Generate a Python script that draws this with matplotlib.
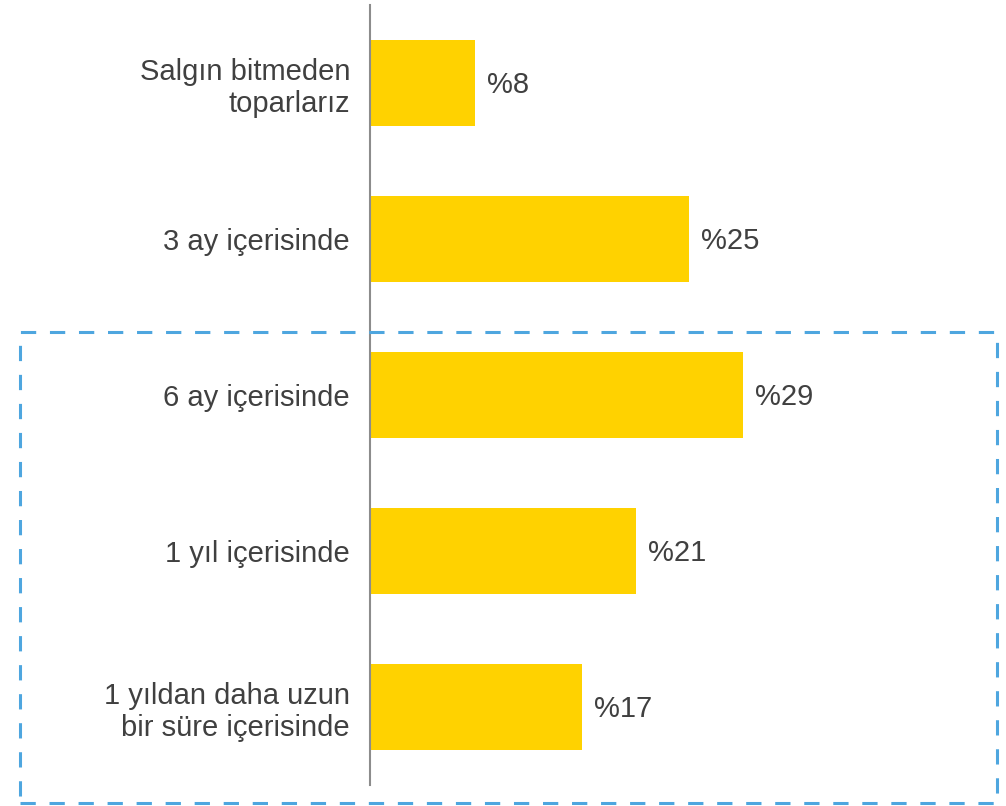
import matplotlib
matplotlib.use("Agg")
import matplotlib.pyplot as plt
from matplotlib.patches import Rectangle

categories = ["Salgın bitmeden\ntoparlarız", "3 ay içerisinde", "6 ay içerisinde",
              "1 yıl içerisinde", "1 yıldan daha uzun\nbir süre içerisinde"]
values = [8.2, 24.8, 29.0, 20.7, 16.5]
value_labels = ["%8", "%25", "%29", "%21", "%17"]

plt.rcParams['font.family'] = ['Liberation Sans', 'DejaVu Sans']

W, H = 1006, 806
fig = plt.figure(figsize=(W / 100, H / 100), dpi=100)
xmax = 45
px_per_unit = 12.86
ax = fig.add_axes([370 / W, (H - 785) / H, px_per_unit * xmax / W, 780 / H])

ypos = list(range(len(categories)))
ax.barh(ypos, values, height=0.545, color="#FFD200", zorder=2)
ax.set_xlim(0, xmax)
ax.set_ylim(len(categories) - 0.5, -0.5)

for s in ["top", "right", "bottom"]:
    ax.spines[s].set_visible(False)
ax.spines["left"].set_color("#8c8c8c")
ax.spines["left"].set_linewidth(1.5)
ax.spines["left"].set_zorder(3)
ax.set_xticks([])
ax.set_yticks(ypos)
ax.set_yticklabels(categories, fontsize=21, color="#404040", linespacing=1.2)
ax.tick_params(axis="y", length=0, pad=14.4)

for y, v, t in zip(ypos, values, value_labels):
    ax.annotate(t, (v, y), xytext=(12, 1), textcoords="offset pixels",
                ha="left", va="center_baseline", fontsize=21, color="#404040")

rect = Rectangle((20 / W, (H - 803) / H), 977 / W, 471 / H, transform=fig.transFigure,
                 fill=False, edgecolor="#4EA6DF", linewidth=2.2,
                 linestyle=(0, (5, 4.5)), clip_on=False, zorder=5)
fig.patches.append(rect)

fig.savefig("out.png", dpi=100, facecolor="white")
